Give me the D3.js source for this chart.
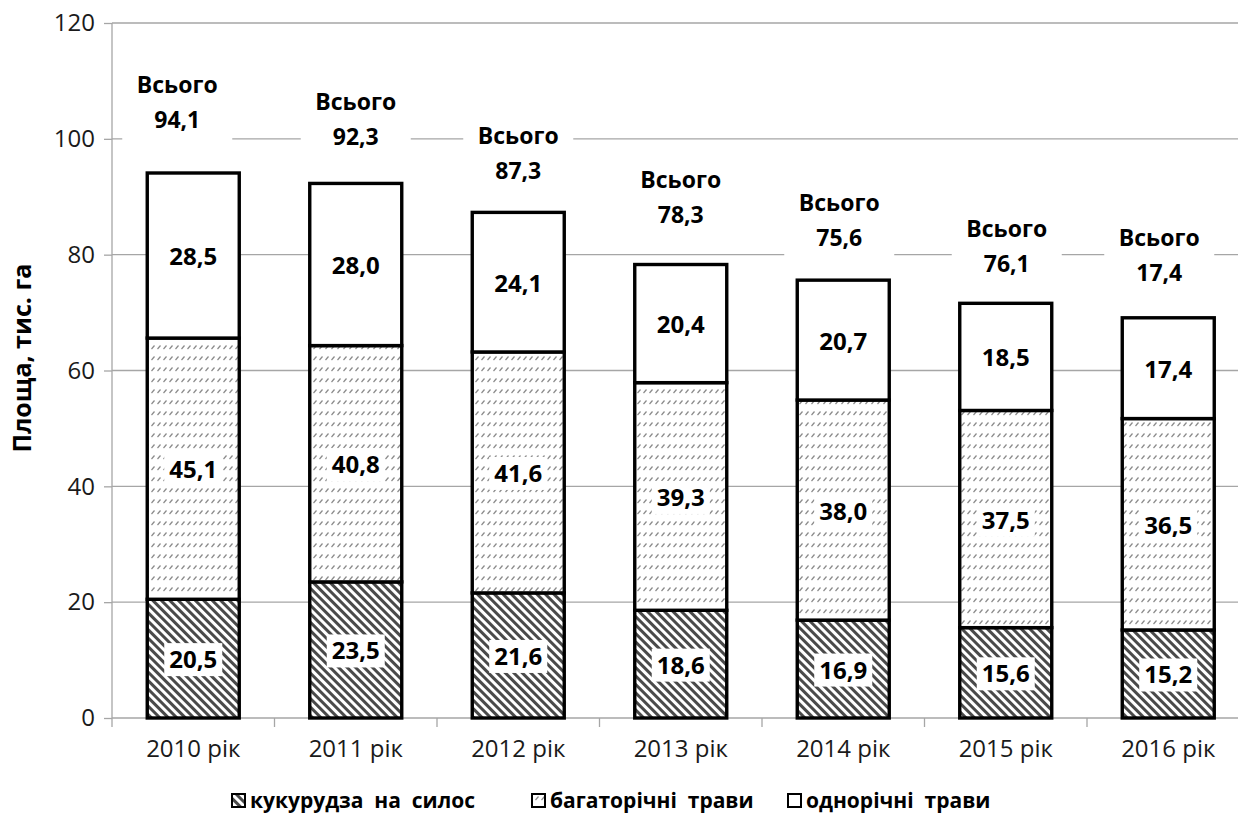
<!DOCTYPE html>
<html>
<head>
<meta charset="utf-8">
<script src="https://cdn.jsdelivr.net/npm/d3@7"></script>
<style>
  body { margin: 0; background: #fff; }
  text { font-family: "Open Sans", "Noto Sans", sans-serif; }
</style>
</head>
<body>
<svg id="chart" width="1238" height="816"></svg>
<script>
// data
const years = ["2010 рік", "2011 рік", "2012 рік", "2013 рік", "2014 рік", "2015 рік", "2016 рік"];
const corn = [20.5, 23.5, 21.6, 18.6, 16.9, 15.6, 15.2];        // кукурудза на силос
const perennial = [45.1, 40.8, 41.6, 39.3, 38.0, 37.5, 36.5];   // багаторічні трави
const annual = [28.5, 28.0, 24.1, 20.4, 20.7, 18.5, 17.4];      // однорічні трави
const totalText = ["94,1", "92,3", "87,3", "78,3", "75,6", "76,1", "17,4"];
const seriesNames = ["кукурудза  на  силос", "багаторічні  трави", "однорічні  трави"];
const yTicks = [0, 20, 40, 60, 80, 100, 120];

// where the "Всього" boxes sit (px: shift from bar centre, baseline of first line)
const totalLabelPos = [[-16, 93], [0, 110], [0, 144], [0, 188], [-4, 211], [1, 237], [-9, 246]];

const svg = d3.select("#chart");
const width = 1238, height = 816;
const margin = { top: 23, left: 112, bottom: 98 };

const x = d3.scaleBand()
  .domain(years)
  .range([margin.left, margin.left + 162.5 * years.length])
  .paddingInner(0)
  .paddingOuter(0);

const y = d3.scaleLinear()
  .domain([0, 120])
  .range([height - margin.bottom, margin.top]);

const fmt = v => d3.format(".1f")(v).replace(".", ",");

// patterns
const defs = svg.append("defs");
const dark = defs.append("pattern")
  .attr("id", "hatchDark")
  .attr("patternUnits", "userSpaceOnUse")
  .attr("width", 6).attr("height", 6)
  .attr("patternTransform", "rotate(-45)");
dark.append("rect").attr("width", 6).attr("height", 6).attr("fill", "#fff");
dark.append("rect").attr("width", 3).attr("height", 6).attr("fill", "#4a4a4a");

const light = defs.append("pattern")
  .attr("id", "hatchLight")
  .attr("patternUnits", "userSpaceOnUse")
  .attr("width", 6).attr("height", 11);
light.append("rect").attr("width", 6).attr("height", 11).attr("fill", "#fff");
light.append("line")
  .attr("x1", 1.5).attr("y1", 8).attr("x2", 4.5).attr("y2", 4.5)
  .attr("stroke", "#8a8a8a").attr("stroke-width", 1.2);

const fills = ["url(#hatchDark)", "url(#hatchLight)", "#fff"];

// gridlines
svg.append("g")
  .selectAll("line")
  .data(yTicks.filter(d => d > 0))
  .enter()
  .append("line")
  .attr("x1", margin.left).attr("x2", width)
  .attr("y1", d => y(d)).attr("y2", d => y(d))
  .attr("stroke", "#a6a6a6").attr("stroke-width", 1.3);

// y axis
const yAxis = svg.append("g")
  .attr("transform", `translate(${margin.left},0)`)
  .call(d3.axisLeft(y).tickValues(yTicks).tickSize(8).tickPadding(9).tickSizeOuter(0));
yAxis.select(".domain").attr("stroke", "#a6a6a6").attr("stroke-width", 1.3)
  .attr("d", `M0,${y(120)}V${y(0) + 9}`);
yAxis.selectAll(".tick line").attr("stroke", "#a6a6a6").attr("stroke-width", 1.3);
yAxis.selectAll(".tick text")
  .attr("font-size", 24).attr("fill", "#1a1a1a")
  .style("font-family", "'Open Sans', sans-serif");

// x axis
const xAxis = svg.append("g")
  .attr("transform", `translate(0,${y(0)})`)
  .call(d3.axisBottom(x).tickSize(0).tickPadding(22));
xAxis.select(".domain").attr("stroke", "#a6a6a6").attr("stroke-width", 1.3)
  .attr("d", `M${margin.left},0H${width}`);
xAxis.selectAll(".tick text")
  .attr("font-size", 24).attr("fill", "#1a1a1a")
  .style("font-family", "'Open Sans', sans-serif");
xAxis.selectAll(".sep")
  .data(years.slice(1))
  .enter()
  .append("line")
  .attr("x1", d => x(d)).attr("x2", d => x(d))
  .attr("y1", 0).attr("y2", 9)
  .attr("stroke", "#a6a6a6").attr("stroke-width", 1.3);

// stacked bars
const rows = years.map((yr, i) => ({ year: yr, corn: corn[i], perennial: perennial[i], annual: annual[i] }));
const stack = d3.stack().keys(["corn", "perennial", "annual"])(rows);

const barW = 92;
const barX = d => x(d.data.year) + x.bandwidth() / 2 - barW / 2;

const layers = svg.append("g")
  .selectAll("g")
  .data(stack)
  .enter()
  .append("g")
  .attr("fill", (d, i) => fills[i]);

layers.selectAll("rect")
  .data(d => d)
  .enter()
  .append("rect")
  .attr("x", barX)
  .attr("width", barW)
  .attr("y", d => y(d[1]))
  .attr("height", d => y(d[0]) - y(d[1]))
  .attr("stroke", "#000")
  .attr("stroke-width", 3.4);

// value labels with white boxes
const valueLabels = svg.append("g");
stack.forEach(layer => {
  layer.forEach(d => {
    const cx = x(d.data.year) + x.bandwidth() / 2;
    const cy = y((d[0] + d[1]) / 2);
    const g = valueLabels.append("g");
    const t = g.append("text")
      .attr("x", cx).attr("y", cy)
      .attr("text-anchor", "middle")
      .attr("dominant-baseline", "central")
      .attr("font-size", 24).attr("font-weight", "bold")
      .attr("fill", "#000")
      .text(fmt(d[1] - d[0]));
    const bb = t.node().getBBox();
    g.insert("rect", "text")
      .attr("x", bb.x - 5).attr("y", bb.y + 1)
      .attr("width", bb.width + 10).attr("height", bb.height)
      .attr("fill", "#fff");
  });
});

// total labels
const totals = svg.append("g");
years.forEach((yr, i) => {
  const cx = x(yr) + x.bandwidth() / 2 + totalLabelPos[i][0];
  const base = totalLabelPos[i][1];
  const g = totals.append("g");
  g.append("rect")
    .attr("x", cx - 55).attr("y", base - 30)
    .attr("width", 110).attr("height", 80)
    .attr("fill", "#fff");
  g.append("text")
    .attr("x", cx).attr("y", base)
    .attr("text-anchor", "middle")
    .attr("font-size", 23).attr("font-weight", "bold")
    .text("Всього");
  g.append("text")
    .attr("x", cx).attr("y", base + 35)
    .attr("text-anchor", "middle")
    .attr("font-size", 23).attr("font-weight", "bold")
    .text(totalText[i]);
});

// y title
svg.append("text")
  .attr("transform", `translate(31,358) rotate(-90)`)
  .attr("text-anchor", "middle")
  .attr("font-size", 25).attr("font-weight", "bold")
  .text("Площа, тис. га");

// legend
const legendX = [232, 532, 788];
const legend = svg.append("g");
seriesNames.forEach((name, i) => {
  legend.append("rect")
    .attr("x", legendX[i]).attr("y", 794)
    .attr("width", 13).attr("height", 13)
    .attr("fill", fills[i])
    .attr("stroke", "#000").attr("stroke-width", 2);
  legend.append("text")
    .attr("x", legendX[i] + 18).attr("y", 808)
    .attr("font-size", 21).attr("font-weight", "bold")
    .attr("xml:space", "preserve")
    .style("white-space", "pre")
    .text(name);
});
</script>
</body>
</html>
